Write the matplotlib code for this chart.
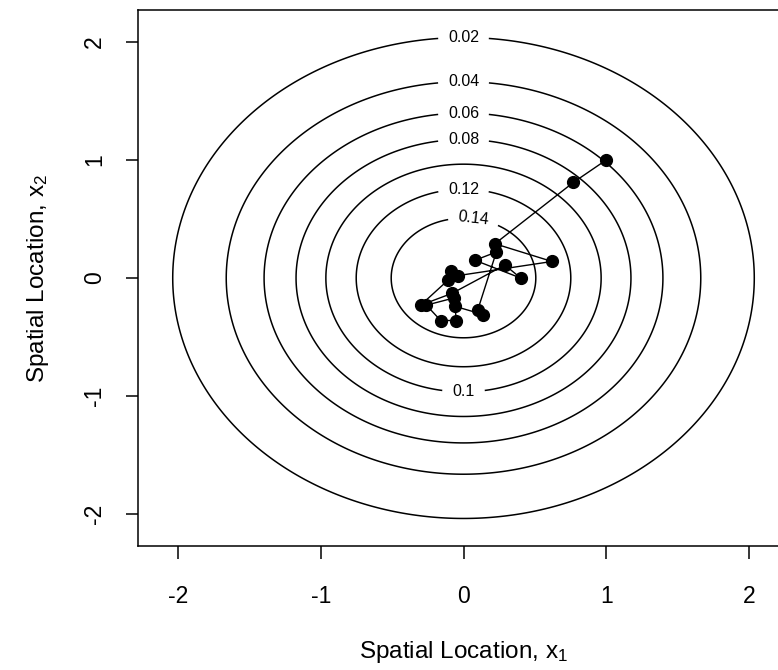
import numpy as np
import matplotlib
matplotlib.use("Agg")
import matplotlib.pyplot as plt

plt.rcParams["font.family"] = ["Liberation Sans", "DejaVu Sans"]
plt.rcParams["mathtext.default"] = "regular"

# Density levels of the standard bivariate normal target
levels = [0.02, 0.04, 0.06, 0.08, 0.10, 0.12, 0.14]

# Sampler chain (x1, x2) in visiting order
chain_x1 = [1.00, 0.77, 0.22, 0.62, -0.04, -0.09, -0.11, -0.30, -0.08, 0.29,
            0.40, 0.08, 0.23, 0.10, 0.14, -0.06, -0.05, -0.16, -0.26, -0.07]
chain_x2 = [1.00, 0.81, 0.29, 0.14, 0.02, 0.06, -0.02, -0.23, -0.13, 0.11,
            0.00, 0.15, 0.22, -0.27, -0.31, -0.24, -0.36, -0.36, -0.23, -0.17]

ticks = [-2, -1, 0, 1, 2]
tick_labels = ["-2", "-1", "0", "1", "2"]

# Approximate spots where each contour carries its label
label_x1 = [0.0, 0.0, 0.0, 0.0, 0.0, 0.0, 0.07]
label_x2 = [2.03, 1.66, 1.40, 1.17, -0.96, 0.75, 0.50]

grid = np.linspace(-2.1, 2.1, 421)
G1, G2 = np.meshgrid(grid, grid)
density = np.exp(-0.5 * (G1 ** 2 + G2 ** 2)) / (2 * np.pi)

W, H = 778, 670
fig = plt.figure(figsize=(W / 100, H / 100), dpi=100)
ax = fig.add_axes([138 / W, 124 / H, 651 / W, 536 / H])

cs = ax.contour(G1, G2, density, levels=levels, colors="black", linewidths=1.1)
ax.clabel(cs, levels, fmt=lambda v: f"{v:g}", fontsize=11.5, inline=True,
          inline_spacing=12, manual=list(zip(label_x1, label_x2)))

ax.plot(chain_x1, chain_x2, "-o", color="black", lw=1.0, ms=8.5)

ax.set_xlim(-2.28, 2.28)
ax.set_ylim(-2.27, 2.27)
ax.set_xticks(ticks)
ax.set_xticklabels(tick_labels)
ax.set_yticks(ticks)
ax.set_yticklabels(tick_labels, rotation=90, va="center")
ax.tick_params(axis="both", direction="out", length=9, width=1.1,
               labelsize=16.5, color="black")
ax.tick_params(axis="x", pad=19)
ax.tick_params(axis="y", pad=14)
for sp in ax.spines.values():
    sp.set_linewidth(1.1)

ax.set_xlabel("Spatial Location, $x_1$", fontsize=17.5, va="center")
ax.xaxis.set_label_coords(0.5, (546 - 652) / 536)
ax.set_ylabel("Spatial Location, $x_2$", fontsize=17.5, va="center", ha="center")
ax.yaxis.set_label_coords((38 - 138) / 651, 0.5)

fig.savefig("out.png", dpi=100)
